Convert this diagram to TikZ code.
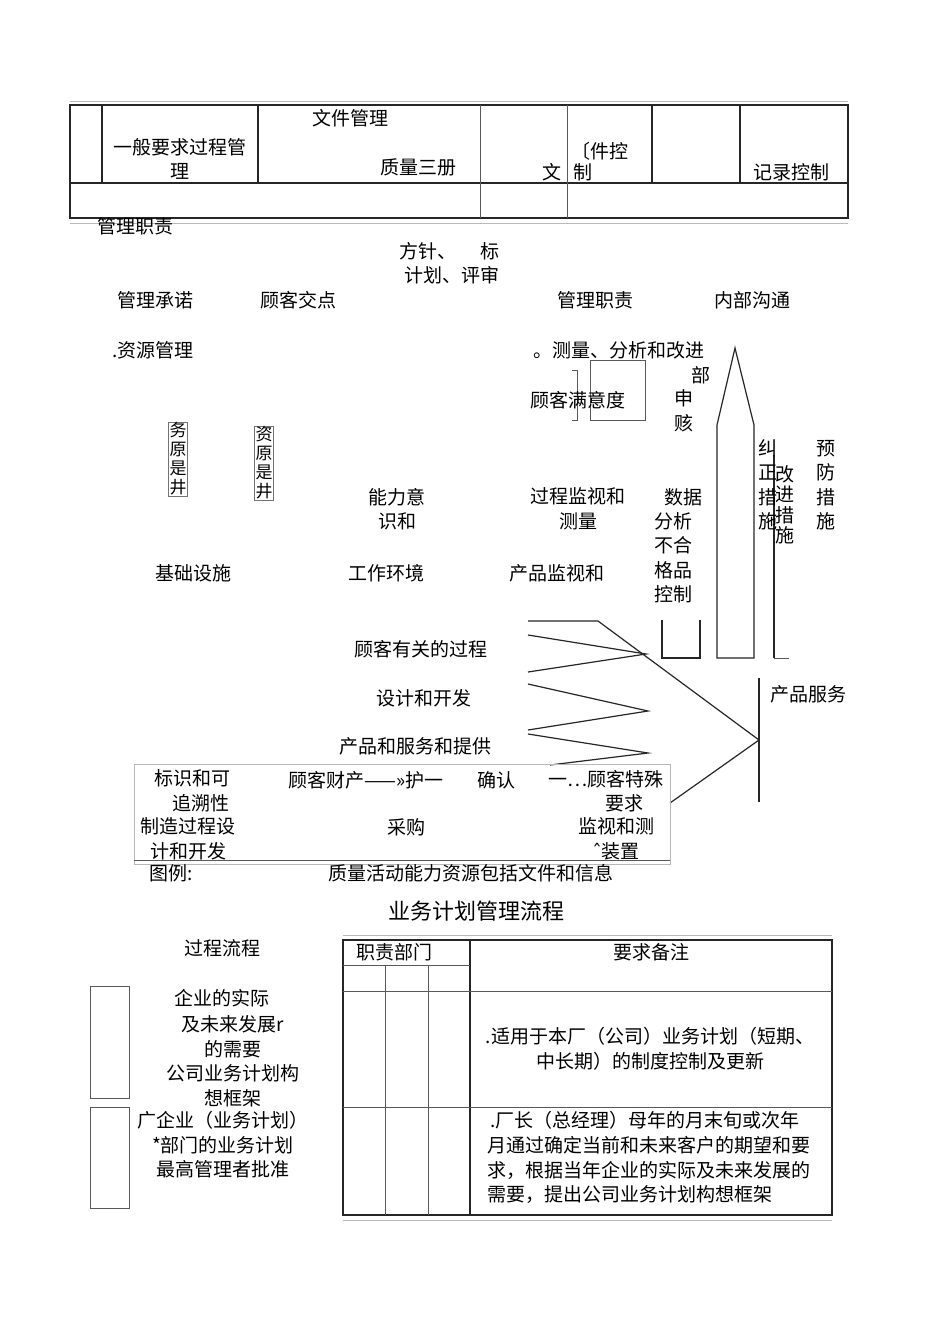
\documentclass[tikz,border=0pt]{standalone}
\usepackage{fontspec}
\newfontfamily\cjk{Noto Sans CJK SC}
\newfontfamily\symfont{DejaVu Sans}
\usetikzlibrary{positioning}
\tikzset{
  lbl/.style={inner sep=0pt, align=center, font=\cjk\fontsize{19}{24.5}\selectfont},
  ttl/.style={inner sep=0pt, font=\cjk\fontsize{22}{26}\selectfont},
  vcol/.style={draw=black!55, line width=0.9pt, inner sep=0.6pt, align=center,
               font=\cjk\fontsize{17}{19}\selectfont},
  rule/.style={draw=black!85, line width=1.2pt},
  thin/.style={draw=black!65, line width=1pt},
  faint/.style={draw=black!28, line width=1pt},
}
\begin{document}
\begin{tikzpicture}[x=1pt, y=-1pt]
  \useasboundingbox[fill=white] (0,0) rectangle (950,1344);

  % top table
  \draw[faint] (70,101) -- (848,101);
  \draw[rule] (70,105) rectangle (848,218);
  \draw[rule] (70,183) -- (848,183);
  \foreach \x in {102,258,652,740} \draw[rule] (\x,105) -- (\x,183);
  \foreach \x in {480,567} \draw[thin] (\x,105) -- (\x,218);
  \draw[faint] (70,223) -- (848,223);
  \node[lbl] (wj) at (350,118) {文件管理};
  \node[lbl] (yb) at (180,159) {一般要求过程管\\理};
  \node[lbl] (zl) at (418,167) {质量三册};
  \node[lbl] (wen) at (552,172) {文};
  \node[lbl] (jk) at (600,151) {〔件控};
  \node[lbl] (zhi) at (583,172) {制};
  \node[lbl] (jl) at (791,172) {记录控制};
  \node[lbl] (glzz) at (135,226) {管理职责};

  % management block
  \node[lbl] (fz) at (428,251) {方针、};
  \node[lbl] (biao) at (490,251) {标};
  \node[lbl] (jh) at (452,275) {计划、评审};
  \node[lbl] (cn) at (155,300) {管理承诺};
  \node[lbl] (gk) at (298,300) {顾客交点};
  \node[lbl] (zz) at (595,300) {管理职责};
  \node[lbl] (gt) at (752,300) {内部沟通};
  \node[lbl] (zy) at (153,350) {.资源管理};
  \node[lbl] (cl) at (619,350) {。测量、分析和改进};

  % measurement side
  \draw[thin] (590,360) rectangle (645,420);
  \draw[thin] (572,370) -- (577,370) -- (577,420) -- (572,420);
  \node[lbl] (myd) at (578,400) {顾客满意度};
  \node[lbl] (bu) at (701,375) {部};
  \node[lbl] (sh) at (684,411) {申\\赅};
  \draw[rule] (717,658) -- (717,425) -- (735,348) -- (754,425) -- (754,658) -- cycle;
  \draw[rule] (662,620) -- (662,658) -- (700,658) -- (700,620);
  \draw[rule] (774,455) -- (774,658);
  \draw[thin] (774,658) -- (789,658);
  \node[lbl] (jz) at (768,485) {纠\\正\\措\\施};
  \node[lbl, font=\cjk\fontsize{19}{20.5}\selectfont] (gj) at (785,505) {改\\进\\措\\施};
  \node[lbl] (yf) at (826,485) {预\\防\\措\\施};
  \node[lbl] (sj) at (683,497) {数据};
  \node[lbl] (fx) at (673,558) {分析\\不合\\格品\\控制};
  \node[lbl] (gc) at (578,509) {过程监视和\\测量};
  \node[lbl] (cp) at (557,573) {产品监视和};

  % resource side
  \node[vcol] (wy) at (178,459) {务\\原\\是\\井};
  \node[vcol] (zyy) at (264,463) {资\\原\\是\\井};
  \node[lbl] (nl) at (397,509) {能力意\\识和};
  \node[lbl] (jc) at (193,573) {基础设施};
  \node[lbl] (hj) at (386,573) {工作环境};

  % product realisation
  \coordinate (k0) at (598,621);
  \coordinate (tip) at (759,740);
  \coordinate (t1) at (646,654);
  \coordinate (t2) at (648,711);
  \coordinate (t3) at (648,753);
  \draw[rule] (528,621) -- (k0) -- (tip) -- (670,803);
  \draw[rule] (528,635) -- (t1) -- (528,672);
  \draw[rule] (528,684) -- (t2) -- (528,730);
  \draw[rule] (528,734) -- (t3) -- (550,765);
  \draw[rule] (759,678) -- (759,802);
  \node[lbl] (fw) at (808,694) {产品服务};
  \node[lbl] (gkyg) at (421,649) {顾客有关的过程};
  \node[lbl] (sk) at (424,698) {设计和开发};
  \node[lbl] (tg) at (415,746) {产品和服务和提供};

  % legend box
  \draw[faint] (134,764) rectangle (670,864);
  \draw[thin] (134,860) -- (670,860);
  \node[lbl] (bs) at (192,791) {标识和可\\\hspace*{18pt}追溯性};
  \node[lbl] (cc) at (366,780) {顾客财产——»护一};
  \node[lbl] (qr) at (496,780) {确认};
  \node[lbl] (ts) at (606,791) {一…顾客特殊\\\hspace*{36pt}要求};
  \node[lbl] (zz2) at (188,839) {制造过程设\\计和开发};
  \node[lbl] (cg) at (406,827) {采购};
  \node[lbl] (jc2) at (616,839) {监视和测\\{\symfont ˆ}装置};
  \node[lbl] (tl) at (171,873) {图例:};
  \node[lbl] (zlhd) at (471,873) {质量活动能力资源包括文件和信息};

  % business planning flow
  \node[ttl] (title) at (476,911) {业务计划管理流程};
  \node[lbl] (lc) at (222,948) {过程流程};
  \draw[thin] (90,986) rectangle (129,1098);
  \draw[thin] (90,1107) rectangle (129,1208);
  \node[lbl] (s1) at (222,998) {企业的实际};
  \node[lbl] (s2) at (233,1061) {及未来发展r\\的需要\\公司业务计划构\\想框架};
  \node[lbl] (s3) at (223,1145) {广企业（业务计划）\\*部门的业务计划\\最高管理者批准};

  \draw[faint] (343,935) -- (832,935);
  \draw[rule] (343,940) rectangle (832,1215);
  \draw[rule] (470,940) -- (470,1215);
  \draw[thin] (343,965) -- (470,965);
  \foreach \x in {385,428} \draw[thin] (\x,965) -- (\x,1215);
  \draw[thin] (343,991) -- (832,991);
  \draw[thin] (343,1107) -- (832,1107);
  \draw[faint] (343,1220) -- (832,1220);
  \node[lbl] (zb) at (394,952) {职责部门};
  \node[lbl] (yq) at (651,952) {要求备注};
  \node[lbl] (r1) at (650,1049) {.适用于本厂（公司）业务计划（短期、\\中长期）的制度控制及更新};
  \node[lbl, anchor=west] (r2a) at (490,1120) {.厂长（总经理）母年的月末旬或次年};
  \node[lbl, anchor=west] (r2b) at (487,1145) {月通过确定当前和未来客户的期望和要};
  \node[lbl, anchor=west] (r2c) at (487,1170) {求，根据当年企业的实际及未来发展的};
  \node[lbl, anchor=west] (r2d) at (487,1195) {需要，提出公司业务计划构想框架};
\end{tikzpicture}
\end{document}
